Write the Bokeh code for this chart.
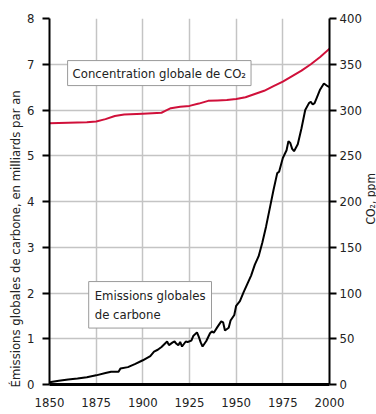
from bokeh.plotting import figure
from bokeh.models import Range1d, LinearAxis, Label, FixedTicker, Title
from bokeh.layouts import row
from bokeh.embed import file_html
from bokeh.resources import INLINE

# Emissions globales de carbone (milliards de tonnes par an)
em_years = [1850, 1855, 1860, 1865, 1870, 1875, 1880, 1883, 1887, 1888, 1892, 1896,
            1900, 1904, 1906, 1908, 1910, 1913, 1914, 1916, 1917, 1918, 1919, 1920,
            1921, 1923, 1924, 1926, 1927, 1929, 1930, 1931, 1932, 1934, 1936, 1937,
            1938, 1940, 1942, 1943, 1944, 1946, 1947, 1949, 1950, 1952, 1954, 1956,
            1958, 1960, 1962, 1964, 1966, 1968, 1970, 1972, 1973, 1975, 1977, 1978,
            1979, 1980, 1981, 1983, 1985, 1987, 1989, 1990, 1991, 1992, 1993, 1995,
            1997, 1999, 2000]
em_values = [0.05, 0.08, 0.11, 0.13, 0.16, 0.20, 0.25, 0.28, 0.28, 0.35, 0.38, 0.45,
             0.53, 0.62, 0.72, 0.76, 0.82, 0.94, 0.86, 0.92, 0.94, 0.89, 0.86, 0.93,
             0.83, 0.94, 0.93, 0.96, 1.06, 1.14, 1.04, 0.92, 0.83, 0.95, 1.12, 1.16,
             1.13, 1.26, 1.38, 1.36, 1.18, 1.24, 1.40, 1.52, 1.72, 1.82, 2.02, 2.20,
             2.38, 2.62, 2.80, 3.10, 3.45, 3.85, 4.25, 4.62, 4.65, 4.95, 5.12, 5.32,
             5.28, 5.15, 5.10, 5.25, 5.60, 6.00, 6.15, 6.18, 6.12, 6.15, 6.25, 6.45,
             6.58, 6.52, 6.50]

# Concentration globale de CO2 (ppm)
co2_years = [1850, 1860, 1870, 1875, 1880, 1885, 1890, 1900, 1905, 1910, 1912, 1915,
             1920, 1925, 1930, 1935, 1940, 1945, 1950, 1955, 1960, 1965, 1970, 1975,
             1980, 1985, 1990, 1995, 2000]
co2_values = [285.5, 286, 286.5, 287.5, 290, 293.5, 295, 296, 296.5, 297, 299, 302,
              303.5, 304.5, 307, 310, 310.5, 311, 312, 314, 317.5, 321, 326, 331,
              337, 343, 350, 358, 367]

x_ticks = [1850, 1875, 1900, 1925, 1950, 1975, 2000]
left_ticks = [0, 1, 2, 3, 4, 5, 6, 7, 8]
right_ticks = [0, 50, 100, 150, 200, 250, 300, 350, 400]

FONT = "'DejaVu Sans Condensed', Roboto, sans-serif"
TXT = "#222222"

p = figure(frame_width=280, frame_height=366, min_border_left=49, min_border_right=34,
           min_border_top=18, min_border_bottom=29,
           x_range=Range1d(1850, 2000), y_range=Range1d(0, 8),
           output_backend="svg", toolbar_location=None, tools="")
p.extra_y_ranges = {"co2": Range1d(0, 400)}
p.outline_line_color = None
p.background_fill_color = "white"

# grid
p.xgrid.ticker = FixedTicker(ticks=x_ticks[1:-1])
p.ygrid.ticker = FixedTicker(ticks=left_ticks[1:-1])
for g in (p.xgrid, p.ygrid):
    g.grid_line_color = "#c4c4c4"
    g.grid_line_width = 1.5

# bottom axis
xa = p.xaxis[0]
xa.ticker = FixedTicker(ticks=x_ticks)
xa.axis_line_width = 3
xa.axis_line_color = "black"
xa.major_tick_out = 0
xa.major_tick_in = 0
xa.minor_tick_line_color = None
xa.major_label_standoff = 13
xa.major_label_text_font = FONT
xa.major_label_text_font_size = "13px"
xa.major_label_text_color = TXT

# left axis
ya = p.yaxis[0]
ya.ticker = FixedTicker(ticks=left_ticks)
ya.axis_line_width = 2
ya.axis_line_color = "black"
ya.major_tick_out = 7
ya.major_tick_in = 0
ya.major_tick_line_width = 2
ya.minor_tick_line_color = None
ya.major_label_standoff = 8
ya.major_label_text_font = FONT
ya.major_label_text_font_size = "13px"
ya.major_label_text_color = TXT

# right axis
ra = LinearAxis(y_range_name="co2", ticker=FixedTicker(ticks=right_ticks))
ra.axis_line_width = 2
ra.axis_line_color = "black"
ra.major_tick_out = 7
ra.major_tick_in = 0
ra.major_tick_line_width = 2
ra.minor_tick_line_color = None
ra.major_label_standoff = 3
ra.major_label_text_font = FONT
ra.major_label_text_font_size = "13px"
ra.major_label_text_color = TXT
p.add_layout(ra, "right")

# left title
p.add_layout(Title(text="Émissions globales de carbone, en milliards par an",
                   align="left", offset=-3, standoff=4,
                   text_font=FONT, text_font_size="13px", text_font_style="normal",
                   text_color=TXT), "left")

# series
p.line(co2_years, co2_values, y_range_name="co2", line_color="#d0103a", line_width=2)
p.line(em_years, em_values, line_color="black", line_width=2)

# series labels
p.add_layout(Label(x=1859.7, y=7.08, text="Concentration globale de CO₂",
                   text_align="left", text_baseline="top", padding=5,
                   background_fill_color="white", border_line_color="#9a9a9a",
                   border_line_width=1,
                   text_font=FONT, text_font_size="13px", text_color=TXT))
p.add_layout(Label(x=1871, y=2.25, text="Emissions globales\nde carbone",
                   text_align="left", text_baseline="top", padding=6,
                   background_fill_color="white", border_line_color="#9a9a9a",
                   border_line_width=1, text_line_height=1.3,
                   text_font=FONT, text_font_size="13px", text_color=TXT))

# right-hand axis title (reads bottom to top), in a narrow side panel
q = figure(frame_width=12, frame_height=366, min_border_left=0, min_border_right=0,
           min_border_top=18, min_border_bottom=29,
           x_range=Range1d(0, 1), y_range=Range1d(0, 400),
           x_axis_location=None, y_axis_location=None,
           output_backend="svg", toolbar_location=None, tools="")
q.grid.visible = False
q.outline_line_color = None
q.add_layout(Label(x=0.5, y=203, angle=90, angle_units="deg", text="CO₂, ppm",
                   text_align="center", text_baseline="middle",
                   text_font=FONT, text_font_size="12px", text_color=TXT))

layout = row(p, q, spacing=0)
open("out.html", "w").write(file_html(layout, INLINE))
